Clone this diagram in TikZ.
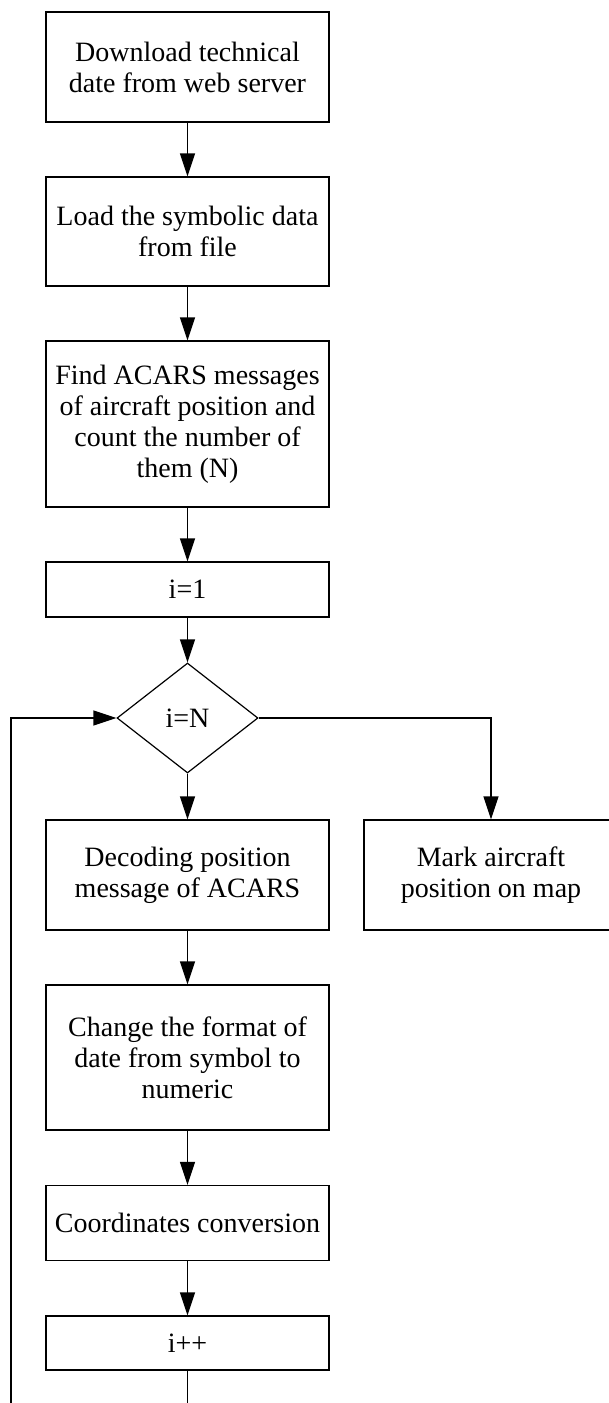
\documentclass[tikz,border=0pt]{standalone}
\usepackage{fontspec}
\setmainfont{Liberation Serif}
\usetikzlibrary{shapes.geometric,positioning,arrows.meta}
\tikzset{
  box/.style={draw, rectangle, line width=1.2pt, minimum width=283pt, inner sep=0pt, align=center, font=\fontsize{28}{31}\selectfont},
  decision/.style={draw, diamond, line width=1.2pt, minimum width=141pt, minimum height=110pt, inner sep=0pt, font=\fontsize{28}{31}\selectfont},
  flow/.style={line width=1.2pt, -{Triangle[length=23pt,width=15pt]}}
}
\begin{document}
\begin{tikzpicture}[x=1pt,y=-1pt]
			\clip (0,0) rectangle (609,1403);
			\node[box, minimum height=110pt] (download) at (187.5,67) {Download technical\\date from web server};
			\node[box, minimum height=109pt] (load) at (187.5,231.5) {Load the symbolic data\\from file};
			\node[box, minimum height=166pt] (find) at (187.5,424) {Find ACARS messages\\of aircraft position and\\count the number of\\them (N)};
			\node[box, minimum height=55pt] (init) at (187.5,589.5) {i=1};
			\node[decision] (cond) at (187.5,718) {i=N};
			\node[box, minimum height=110pt, minimum width=254pt] (mark) at (491,875) {Mark aircraft\\position on map};
			\node[box, minimum height=110pt] (decode) at (187.5,875) {Decoding position\\message of ACARS};
			\node[box, minimum height=145pt] (format) at (187.5,1057.5) {Change the format of\\date from symbol to\\numeric};
			\node[box, minimum height=75pt] (convert) at (187.5,1223) {Coordinates conversion};
			\node[box, minimum height=54pt] (incr) at (187.5,1343) {i++};
			\coordinate (loopend) at (187.5,1410);
			\coordinate (loopstart) at (11,1410);
			\draw[flow] (download) -- (load);
			\draw[flow] (load) -- (find);
			\draw[flow] (find) -- (init);
			\draw[flow] (init) -- (cond);
			\draw[flow] (cond) -- (decode);
			\draw[flow] (cond.east) -| (mark.north);
			\draw[flow] (decode) -- (format);
			\draw[flow] (format) -- (convert);
			\draw[flow] (convert) -- (incr);
			\draw[line width=1.2pt] (incr) -- (loopend);
			\draw[flow] (loopstart) |- (cond.west);
			\end{tikzpicture}
\end{document}
